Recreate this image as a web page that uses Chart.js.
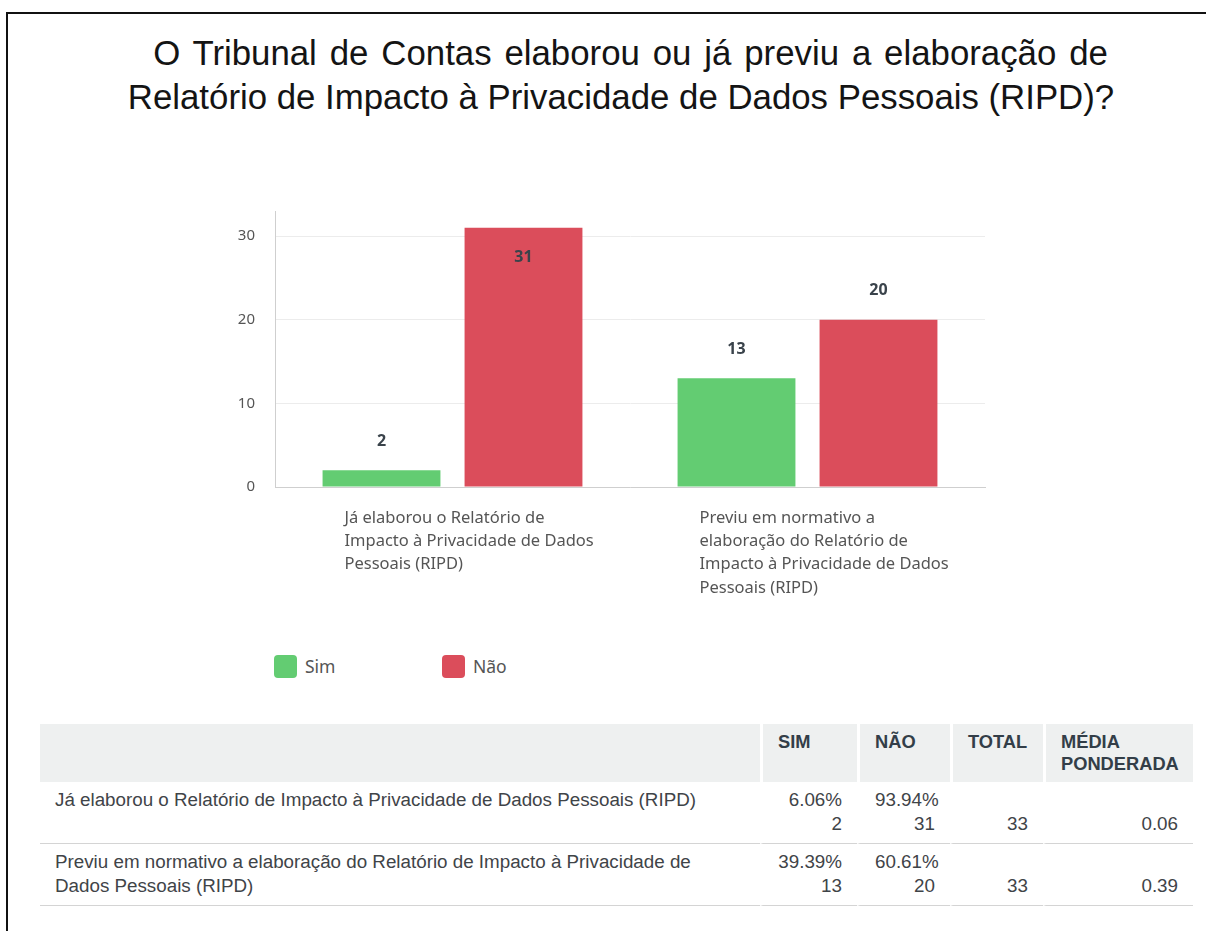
<!DOCTYPE html>
<html lang="pt">
<head>
    <meta charset="UTF-8">
    <title>RIPD</title>
    <script src="https://cdn.jsdelivr.net/npm/chart.js"></script>
    <style>
        body {
            margin: 0;
            background: #fff;
            width: 1206px;
            height: 931px;
            position: relative;
            overflow: hidden;
            font-family: 'Liberation Sans', Arial, sans-serif;
        }
        .frame {
            position: absolute;
            left: 6px;
            top: 12px;
            width: 1400px;
            height: 1000px;
            border-left: 2px solid #111;
            border-top: 2px solid #111;
        }
        .title {
            position: absolute;
            left: 0;
            width: 1206px;
            text-align: center;
            font-size: 34.8px;
            line-height: 40px;
            color: #141414;
            white-space: nowrap;
            box-sizing: border-box;
        }
        .chart-box {
            position: absolute;
            left: 200px;
            top: 190px;
            width: 820px;
            height: 430px;
        }
        .legend {
            position: absolute;
            top: 654px;
            font-family: 'Noto Sans', sans-serif;
            font-size: 17.5px;
            color: #555;
            display: flex;
            align-items: center;
        }
        .legend span.box {
            display: inline-block;
            width: 23px;
            height: 23px;
            border-radius: 4px;
            margin-right: 8px;
        }
        table {
            position: absolute;
            left: 40px;
            top: 724px;
            width: 1153px;
            table-layout: fixed;
            border-collapse: separate;
            border-spacing: 0;
            font-size: 18.8px;
            color: #3f4448;
        }
        th {
            background: #eef0f0;
            font-weight: bold;
            font-size: 18.3px;
            text-align: left;
            vertical-align: top;
            color: #333e48;
            padding: 7px 15px 6px 15px;
            line-height: 22px;
            height: 45px;
        }
        td {
            vertical-align: top;
            padding: 6px 15px 7px 15px;
            line-height: 24px;
            border-bottom: 1px solid #d4d4d4;
            height: 48px;
        }
        th + th, td + td { border-left: 3px solid #fff; }
        td.num { text-align: right; }
    </style>
</head>
<body>
    <div class="frame"></div>
    <div class="title" style="top: 33px; padding-left: 55px; word-spacing: 3.2px;">O Tribunal de Contas elaborou ou já previu a elaboração de</div>
    <div class="title" style="top: 77px; padding-left: 36px;">Relatório de Impacto à Privacidade de Dados Pessoais (RIPD)?</div>

    <div class="chart-box">
        <canvas id="ripdChart"></canvas>
    </div>

    <div class="legend" style="left: 274px;"><span class="box" style="background:#63cc72"></span>Sim</div>
    <div class="legend" style="left: 442px;"><span class="box" style="background:#db4d5b"></span>Não</div>

    <table id="ripdTable">
        <colgroup>
            <col style="width: 720px;">
            <col style="width: 97px;">
            <col style="width: 93px;">
            <col style="width: 93px;">
            <col style="width: 150px;">
        </colgroup>
        <thead>
            <tr>
                <th></th>
                <th>SIM</th>
                <th>NÃO</th>
                <th>TOTAL</th>
                <th>MÉDIA<br>PONDERADA</th>
            </tr>
        </thead>
        <tbody></tbody>
    </table>

    <script>
        // categories as they wrap under the bars
        const chartLabels = [
            ['Já elaborou o Relatório de', 'Impacto à Privacidade de Dados', 'Pessoais (RIPD)'],
            ['Previu em normativo a', 'elaboração do Relatório de', 'Impacto à Privacidade de Dados', 'Pessoais (RIPD)']
        ];
        // same categories as written in the table
        const tableLabels = [
            'Já elaborou o Relatório de Impacto à Privacidade de Dados Pessoais (RIPD)',
            'Previu em normativo a elaboração do Relatório de Impacto à Privacidade de Dados Pessoais (RIPD)'
        ];
        const simValues = [2, 13];
        const naoValues = [31, 20];
        const totals = [33, 33];
        const yTicks = [0, 10, 20, 30];

        // value labels above the bars (inside when there is no room)
        const valueLabels = {
            id: 'valueLabels',
            afterDatasetsDraw(chart) {
                const ctx = chart.ctx;
                ctx.save();
                ctx.font = 'bold 16px "Noto Sans", sans-serif';
                ctx.textAlign = 'center';
                ctx.textBaseline = 'middle';
                ctx.fillStyle = '#3a434b';
                chart.data.datasets.forEach((ds, i) => {
                    chart.getDatasetMeta(i).data.forEach((bar, j) => {
                        let y = bar.y - 29;
                        if (y - 8 < chart.chartArea.top) y = bar.y + 30;
                        ctx.fillText(ds.data[j], bar.x, y);
                    });
                });
                ctx.restore();
            }
        };

        new Chart(document.getElementById('ripdChart'), {
            type: 'bar',
            data: {
                labels: chartLabels,
                datasets: [
                    { label: 'Sim', data: simValues, backgroundColor: '#63cc72' },
                    { label: 'Não', data: naoValues, backgroundColor: '#db4d5b' }
                ]
            },
            options: {
                responsive: true,
                maintainAspectRatio: false,
                animation: false,
                categoryPercentage: 0.8,
                barPercentage: 0.83,
                layout: { padding: { top: 21, right: 35, left: 0, bottom: 0 } },
                plugins: {
                    legend: { display: false },
                    tooltip: { enabled: false }
                },
                scales: {
                    x: {
                        grid: { display: false, drawTicks: false },
                        border: { color: '#cfcfcf' },
                        ticks: {
                            align: 'start',
                            labelOffset: -108,
                            padding: 20,
                            color: '#555',
                            font: { family: 'Noto Sans', size: 16.5, lineHeight: 1.4 },
                            maxRotation: 0,
                            autoSkip: false
                        },
                        afterFit(scale) {
                            scale.height = 133;
                            scale.paddingLeft = 0;
                            scale.paddingRight = 0;
                        }
                    },
                    y: {
                        min: 0,
                        max: 33,
                        afterBuildTicks(scale) { scale.ticks = yTicks.map(v => ({ value: v })); },
                        grid: { color: '#ececec', drawTicks: false },
                        border: { color: '#cfcfcf' },
                        ticks: {
                            padding: 20,
                            color: '#555',
                            font: { family: 'Noto Sans', size: 15 }
                        },
                        afterFit(scale) {
                            scale.width = 75;
                            scale.paddingTop = 0;
                            scale.paddingBottom = 0;
                        }
                    }
                }
            },
            plugins: [valueLabels]
        });

        // table below the chart
        const tbody = document.querySelector('#ripdTable tbody');
        tableLabels.forEach((name, i) => {
            const simPct = (simValues[i] / totals[i] * 100).toFixed(2) + '%';
            const naoPct = (naoValues[i] / totals[i] * 100).toFixed(2) + '%';
            const media = (simValues[i] / totals[i]).toFixed(2);
            const tr = document.createElement('tr');
            tr.innerHTML =
                '<td>' + name + '</td>' +
                '<td class="num">' + simPct + '<br>' + simValues[i] + '</td>' +
                '<td class="num">' + naoPct + '<br>' + naoValues[i] + '</td>' +
                '<td class="num"><br>' + totals[i] + '</td>' +
                '<td class="num"><br>' + media + '</td>';
            tbody.appendChild(tr);
        });
    </script>
</body>
</html>
